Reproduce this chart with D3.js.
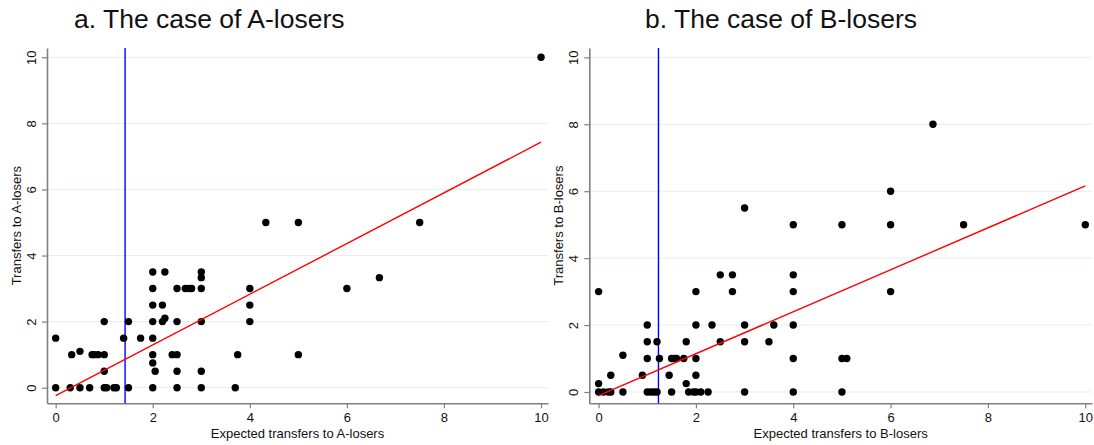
<!DOCTYPE html>
<html>
<head>
<meta charset="utf-8">
<script src="https://cdn.jsdelivr.net/npm/d3@7"></script>
<style>
  html, body { margin: 0; padding: 0; background: #fff; }
  svg { display: block; font-family: "Liberation Sans", Arial, sans-serif; }
</style>
</head>
<body>
<svg id="chart" width="1094" height="445"></svg>
<script>
// ---------- Data ----------
const titles = ["a. The case of A-losers", "b. The case of B-losers"];
const xTitles = ["Expected transfers to A-losers", "Expected transfers to B-losers"];
const yTitles = ["Transfers to A-losers", "Transfers to B-losers"];
const tickValues = [0, 2, 4, 6, 8, 10];
const tickLabels = ["0", "2", "4", "6", "8", "10"];

// Panel a: A-losers
const xA = [0, 0, 0.3, 0.5, 0.7, 1, 1.05, 1.2, 1.25, 1.5, 2, 2.5, 3, 3.7,
  0.33, 0.5, 0.75, 0.8, 0.875, 1, 1, 1, 1.4, 1.5, 1.75,
  2, 2, 2, 2, 2, 2, 2, 2.05, 2.2, 2.2, 2.25, 2.25,
  2.4, 2.5, 2.5, 2.5, 2.5, 2.67, 2.75, 2.8, 3, 3, 3, 3, 3,
  3.75, 4, 4, 4, 5, 6, 6.67, 5, 7.5, 10, 4.33];
const yA = [1.5, 0, 0, 0, 0, 0, 0, 0, 0, 0, 0, 0, 0, 0,
  1, 1.1, 1, 1, 1, 1, 0.5, 2, 1.5, 2, 1.5,
  1.5, 2, 2.5, 3, 3.5, 1, 0.75, 0.5, 2.5, 2, 2.1, 3.5,
  1, 1, 2, 0.5, 3, 3, 3, 3, 3, 3.5, 3.33, 2, 0.5,
  1, 3, 2.5, 2, 1, 3, 3.33, 5, 5, 10, 5];
const fitXA = [0, 10];
const fitYA = [-0.24, 7.43];
const refA = 1.43;

// Panel b: B-losers
const xB = [0, 0, 0, 0.1, 0.2, 0.25, 0.25, 0.5, 0.5, 0.9,
  1, 1, 1, 1, 1.07, 1.14, 1.2, 1.2, 1.25, 1.45, 1.5,
  1.5, 1.55, 1.6, 1.75, 1.8, 1.8, 1.85, 1.95, 2, 2.1, 2.25,
  2, 2, 2, 2, 2.33, 2.5, 2.5, 2.75, 2.75, 3, 3, 3,
  3.5, 3.6, 4, 4, 4, 4, 4, 3, 4, 5, 6, 6, 6.87, 7.5, 10, 6, 5, 5.1, 5];
const yB = [3, 0.25, 0, 0, 0, 0, 0.5, 1.1, 0, 0.5,
  2, 1.5, 1, 0, 0, 0, 0, 1.5, 1, 0.5, 0,
  1, 1, 1, 1, 1.5, 0.25, 0, 0, 0, 0, 0,
  1, 0.5, 2, 3, 2, 3.5, 1.5, 3.5, 3, 2, 1.5, 0,
  1.5, 2, 3.5, 3, 2, 1, 0, 5.5, 5, 5, 5, 6, 8, 5, 5, 3, 1, 1, 0];
const fitXB = [0, 10];
const fitYB = [-0.11, 6.16];
const refB = 1.23;

// ---------- Layout ----------
const svg = d3.select("#chart");
const panels = [
  { title: titles[0], titleX: 74, xt: xTitles[0], yt: yTitles[0], xs: xA, ys: yA, fx: fitXA, fy: fitYA, ref: refA,
    xr: [47, 548], xd: [-0.179, 10.144], yr: [403.3, 48], yd: [-0.472, 10.28] },
  { title: titles[1], titleX: 645, xt: xTitles[1], yt: yTitles[1], xs: xB, ys: yB, fx: fitXB, fy: fitYB, ref: refB,
    xr: [589.3, 1092], xd: [-0.191, 10.138], yr: [403.3, 48], yd: [-0.338, 10.28] }
];

panels.forEach(p => {
  const x = d3.scaleLinear().domain(p.xd).range(p.xr);
  const y = d3.scaleLinear().domain(p.yd).range(p.yr);
  const g = svg.append("g");

  // title
  g.append("text").attr("x", p.titleX).attr("y", 28)
    .attr("font-size", 26.5).attr("fill", "#111").text(p.title);

  // gridlines
  g.append("g").selectAll("line").data(tickValues).join("line")
    .attr("x1", p.xr[0]).attr("x2", p.xr[1])
    .attr("y1", d => y(d)).attr("y2", d => y(d))
    .attr("stroke", "#e6eef0").attr("stroke-width", 1);

  // x axis
  const xAxis = d3.axisBottom(x).tickValues(tickValues).tickFormat((d, i) => tickLabels[i])
    .tickSizeOuter(0).tickSizeInner(5).tickPadding(4);
  const gx = g.append("g").attr("transform", `translate(0,${p.yr[0]})`).call(xAxis);
  gx.select(".domain").attr("stroke", "#808080").attr("stroke-width", 1.6);
  gx.selectAll(".tick line").attr("stroke", "#808080").attr("stroke-width", 1.2);
  gx.selectAll(".tick text").attr("font-size", 13).attr("fill", "#111")
    .attr("font-family", "Liberation Sans, Arial, sans-serif");

  // y axis
  const yAxis = d3.axisLeft(y).tickValues(tickValues).tickFormat((d, i) => tickLabels[i])
    .tickSizeOuter(0).tickSizeInner(5);
  const gy = g.append("g").attr("transform", `translate(${p.xr[0]},0)`).call(yAxis);
  gy.select(".domain").attr("stroke", "#808080").attr("stroke-width", 1.6);
  gy.selectAll(".tick line").attr("stroke", "#808080").attr("stroke-width", 1.2);
  gy.selectAll(".tick text").attr("font-size", 13).attr("fill", "#111")
    .attr("font-family", "Liberation Sans, Arial, sans-serif")
    .attr("transform", "rotate(-90)").attr("x", 0).attr("y", -11).attr("dy", 0)
    .attr("text-anchor", "middle");

  // axis titles
  g.append("text").attr("x", (p.xr[0] + p.xr[1]) / 2).attr("y", 438)
    .attr("text-anchor", "middle").attr("font-size", 13).attr("fill", "#111").text(p.xt);
  const yc = (p.yr[0] + p.yr[1]) / 2;
  g.append("text").attr("transform", `translate(${p.xr[0] - 26},${yc}) rotate(-90)`)
    .attr("text-anchor", "middle").attr("font-size", 13).attr("fill", "#111").text(p.yt);

  // reference vertical line
  g.append("line").attr("x1", x(p.ref)).attr("x2", x(p.ref))
    .attr("y1", p.yr[1]).attr("y2", p.yr[0])
    .attr("stroke", "#0000ff").attr("stroke-width", 1.4);

  // points
  const pts = p.xs.map((v, i) => [v, p.ys[i]]);
  g.append("g").selectAll("circle").data(pts).join("circle")
    .attr("cx", d => x(d[0])).attr("cy", d => y(d[1])).attr("r", 3.7).attr("fill", "#000");

  // fitted line
  const fit = p.fx.map((v, i) => [v, p.fy[i]]);
  g.append("path").datum(fit)
    .attr("d", d3.line().x(d => x(d[0])).y(d => y(d[1])))
    .attr("stroke", "#ff0000").attr("stroke-width", 1.4).attr("fill", "none");
});
</script>
</body>
</html>
